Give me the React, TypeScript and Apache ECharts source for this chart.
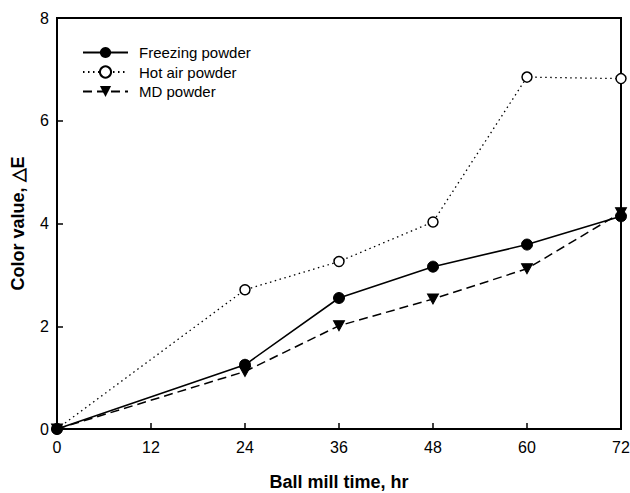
import React, { useEffect, useRef } from "react";
import * as echarts from "echarts";

const hours = [0, 24, 36, 48, 60, 72];
const freezing = [0, 1.25, 2.55, 3.16, 3.59, 4.14];
const hotAir = [0, 2.71, 3.26, 4.03, 6.85, 6.82];
const mdPowder = [0, 1.12, 2.01, 2.53, 3.12, 4.21];
const seriesNames = ["Freezing powder", "Hot air powder", "MD powder"];

const FONT = "Liberation Sans, Arial, Helvetica, sans-serif";

export default function App() {
  const ref = useRef<HTMLDivElement>(null);
  useEffect(() => {
    if (!ref.current) return;
    const chart = echarts.init(ref.current, undefined, { renderer: "svg" });
    const pts = (ys: number[]) => hours.map((h, i) => [h, ys[i]]);
    chart.setOption({
      animation: false,
      backgroundColor: "#ffffff",
      grid: {
        left: 57,
        right: 9,
        top: 18,
        bottom: 64,
        show: true,
        borderColor: "#000",
        borderWidth: 2,
        backgroundColor: "transparent",
        containLabel: false,
        outerBoundsMode: "none",
      },
      legend: {
        orient: "vertical",
        left: 82,
        top: 45,
        padding: 0,
        itemWidth: 45,
        itemHeight: 14,
        itemGap: 4.5,
        selectedMode: false,
        textStyle: {
          fontFamily: FONT,
          fontSize: 15,
          lineHeight: 15,
          color: "#000",
          padding: [0, 0, 0, 6],
        },
        data: seriesNames,
      },
      xAxis: {
        type: "value",
        min: 0,
        max: 72,
        interval: 12,
        name: "Ball mill time, hr",
        nameLocation: "middle",
        nameGap: 44,
        nameTextStyle: { fontFamily: FONT, fontSize: 18, fontWeight: "bold", color: "#000" },
        axisLine: { show: true, lineStyle: { color: "#000", width: 2 } },
        axisTick: { show: true, inside: true, length: 6, lineStyle: { color: "#000", width: 1.5 } },
        axisLabel: { fontFamily: FONT, fontSize: 16, color: "#000", margin: 10 },
        splitLine: { show: false },
      },
      yAxis: {
        type: "value",
        min: 0,
        max: 8,
        interval: 2,
        name: "Color value, △E",
        nameLocation: "middle",
        nameGap: 30,
        nameTextStyle: { fontFamily: FONT, fontSize: 18, fontWeight: "bold", color: "#000" },
        axisLine: { show: true, lineStyle: { color: "#000", width: 2 } },
        axisTick: { show: true, inside: true, length: 6, lineStyle: { color: "#000", width: 1.5 } },
        axisLabel: { fontFamily: FONT, fontSize: 16, color: "#000", margin: 8 },
        splitLine: { show: false },
      },
      series: [
        {
          name: seriesNames[1],
          type: "line",
          data: pts(hotAir),
          clip: false,
          symbol: "circle",
          symbolSize: 10,
          itemStyle: { color: "#fff", borderColor: "#000", borderWidth: 1.5 },
          lineStyle: { color: "#000", width: 1.3, type: [1.5, 3.5] },
          z: 2,
        },
        {
          name: seriesNames[2],
          type: "line",
          data: pts(mdPowder),
          clip: false,
          symbol: "triangle",
          symbolRotate: 180,
          symbolSize: [11, 10],
          itemStyle: { color: "#000", borderColor: "#000" },
          lineStyle: { color: "#000", width: 1.5, type: [9, 5] },
          z: 3,
        },
        {
          name: seriesNames[0],
          type: "line",
          data: pts(freezing),
          clip: false,
          symbol: "circle",
          symbolSize: 11,
          itemStyle: { color: "#000", borderColor: "#000" },
          lineStyle: { color: "#000", width: 1.6, type: "solid" },
          z: 4,
        },
      ],
    });
    return () => chart.dispose();
  }, []);
  return <div ref={ref} style={{ width: 630, height: 493, position: "absolute", left: 0, top: 0 }} />;
}
